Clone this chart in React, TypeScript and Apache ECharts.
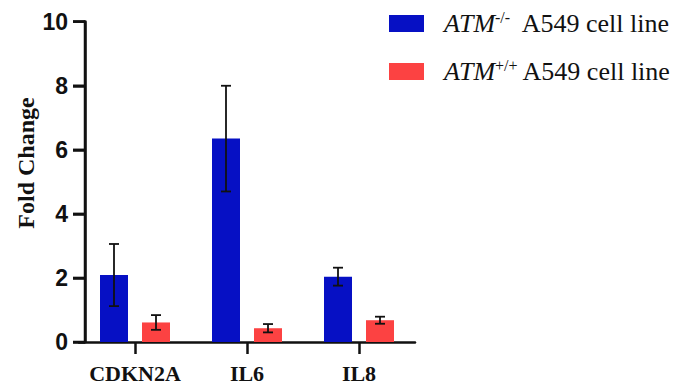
import React, { useEffect, useRef } from "react";
import * as echarts from "echarts";

const categories = ["CDKN2A", "IL6", "IL8"];
const koMeans = [2.09, 6.35, 2.04];
const koErr = [0.97, 1.65, 0.28];
const wtMeans = [0.61, 0.43, 0.68];
const wtErr = [0.23, 0.13, 0.11];
const yTickValues = [0, 2, 4, 6, 8, 10];

const BAR_W = 28;
const BAR_GAP = 14;
const Y_AXIS_SHIFT = 6;
const TICK_LEN = 12;

function errSeries(name: string, means: number[], errs: number[], dir: number) {
  return {
    type: "custom",
    name: name + "_err",
    z: 10,
    silent: true,
    clip: false,
    encode: { x: 0, y: [1, 2] },
    data: means.map((m, i) => [i, m - errs[i], m + errs[i]]),
    renderItem: (params: any, api: any) => {
      const off = dir * (BAR_W + BAR_GAP) / 2;
      const lo = api.coord([api.value(0), api.value(1)]);
      const hi = api.coord([api.value(0), api.value(2)]);
      const x = lo[0] + off;
      const cap = 5;
      const st = { stroke: "#111", lineWidth: 1.8 };
      return {
        type: "group",
        children: [
          { type: "line", shape: { x1: x, y1: lo[1], x2: x, y2: hi[1] }, style: st },
          { type: "line", shape: { x1: x - cap, y1: lo[1], x2: x + cap, y2: lo[1] }, style: st },
          { type: "line", shape: { x1: x - cap, y1: hi[1], x2: x + cap, y2: hi[1] }, style: st },
        ],
      };
    },
  };
}

export default function App() {
  const ref = useRef<HTMLDivElement>(null);
  useEffect(() => {
    document.body.style.margin = "0";
    const chart = echarts.init(ref.current!, null, { renderer: "svg" });
    const legendRich = {
      i: { fontFamily: "Liberation Serif", fontStyle: "italic", fontSize: 26, lineHeight: 28, verticalAlign: "middle", color: "#111" },
      s: { fontFamily: "Liberation Serif", fontSize: 16, lineHeight: 28, verticalAlign: "top", color: "#111" },
      n: { fontFamily: "Liberation Serif", fontSize: 26, lineHeight: 28, verticalAlign: "middle", color: "#111" },
    };
    chart.setOption({
      animation: false,
      grid: { left: 79, top: 21.7, width: 336, height: 321.3 },
      legend: {
        orient: "vertical",
        left: 389,
        top: 9.5,
        padding: 0,
        itemWidth: 35,
        itemHeight: 17,
        itemGap: 21,
        icon: "rect",
        selectedMode: false,
        data: ["ko", "wt"],
        formatter: (name: string) =>
          name === "ko" ? "{i|ATM}{s|-/-}{n|  A549 cell line}" : "{i|ATM}{s|+/+}{n| A549 cell line}",
        textStyle: { rich: legendRich, padding: [0, 0, 0, 15] },
      },
      xAxis: {
        type: "category",
        data: categories,
        axisLine: { show: true, onZero: false, lineStyle: { color: "#111", width: 2.5 } },
        axisTick: { show: true, alignWithLabel: true, length: TICK_LEN, lineStyle: { color: "#111", width: 2.5 } },
        axisLabel: { interval: 0, fontFamily: "Liberation Serif", fontWeight: "bold", fontSize: 22, color: "#111", margin: 20 },
      },
      yAxis: {
        type: "value",
        min: yTickValues[0],
        max: yTickValues[yTickValues.length - 1],
        interval: yTickValues[1] - yTickValues[0],
        offset: -Y_AXIS_SHIFT,
        splitLine: { show: false },
        axisLine: { show: true, onZero: false, lineStyle: { color: "#111", width: 2.5 } },
        axisTick: { show: true, length: TICK_LEN, lineStyle: { color: "#111", width: 2.5 } },
        axisLabel: { fontFamily: "Liberation Sans", fontWeight: "bold", fontSize: 23, color: "#111", margin: 17 },
      },
      series: [
        { type: "bar", name: "ko", data: koMeans, barWidth: BAR_W, barGap: (BAR_GAP / BAR_W * 100) + "%", itemStyle: { color: "#0610c4" } },
        { type: "bar", name: "wt", data: wtMeans, barWidth: BAR_W, itemStyle: { color: "#fc4242" } },
        errSeries("ko", koMeans, koErr, -1),
        errSeries("wt", wtMeans, wtErr, 1),
      ],
    });

    // y-axis line and ticks placed through the library's own scales
    const xc0 = chart.convertToPixel({ xAxisIndex: 0 }, 0) as number;
    const xc1 = chart.convertToPixel({ xAxisIndex: 0 }, 1) as number;
    const x0 = xc0 - (xc1 - xc0) / 2 + Y_AXIS_SHIFT;
    const yPix = yTickValues.map((v) => chart.convertToPixel({ yAxisIndex: 0 }, v) as number);
    const st = { stroke: "#111", lineWidth: 2.5 };
    const axisGraphics: any[] = [];
    if (isFinite(x0) && yPix.every((p) => isFinite(p))) {
      axisGraphics.push({
        type: "line",
        id: "yline",
        z: 50,
        silent: true,
        shape: { x1: x0, y1: yPix[0] + 1.25, x2: x0, y2: yPix[yPix.length - 1] - 1.25 },
        style: st,
      });
      yPix.forEach((p, i) => {
        axisGraphics.push({
          type: "line",
          id: "ytick" + i,
          z: 50,
          silent: true,
          shape: { x1: x0 - TICK_LEN, y1: p, x2: x0, y2: p },
          style: st,
        });
      });
    }
    chart.setOption({
      graphic: [
        {
          type: "text",
          id: "ytitle",
          x: 26,
          y: 163,
          rotation: Math.PI / 2,
          style: {
            text: "Fold Change",
            fontFamily: "Liberation Serif",
            fontWeight: "bold",
            fontSize: 24,
            fill: "#111",
            align: "center",
            verticalAlign: "middle",
          },
        },
        ...axisGraphics,
      ],
    });
    return () => chart.dispose();
  }, []);
  return <div ref={ref} style={{ width: 686, height: 384 }} />;
}
